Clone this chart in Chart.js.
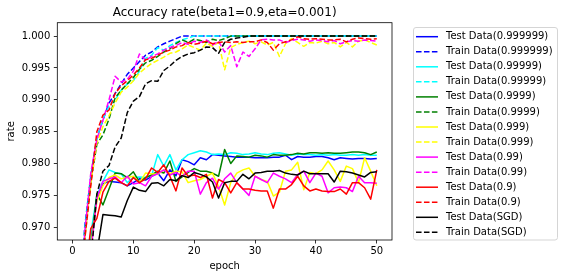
<!DOCTYPE html>
<html>
<head>
<meta charset="utf-8">
<script src="https://cdn.jsdelivr.net/npm/chart.js@4.4.0/dist/chart.umd.min.js"></script>
<style>
  html, body { margin: 0; padding: 0; background: #fff; }
  canvas { display: block; }
</style>
</head>
<body>
<canvas id="accuracy" width="564" height="278"></canvas>
<script>
Chart.defaults.font.family = "DejaVu Sans";
Chart.defaults.font.size = 10;
Chart.defaults.color = '#000';

const epochs = [1, 2, 3, 4, 5, 6, 7, 8, 9, 10,
    11, 12, 13, 14, 15, 16, 17, 18, 19, 20,
    21, 22, 23, 24, 25, 26, 27, 28, 29, 30,
    31, 32, 33, 34, 35, 36, 37, 38, 39, 40,
    41, 42, 43, 44, 45, 46, 47, 48, 49, 50];
const xTicks = [0, 10, 20, 30, 40, 50];
const yTicks = [0.970, 0.975, 0.980, 0.985, 0.990, 0.995, 1.000];

// beta2 = 0.999999
const test6 = [0.9550, 0.9620, 0.9680, 0.9745, 0.9768, 0.9772, 0.9771, 0.9770, 0.9765, 0.9770,
    0.9776, 0.9774, 0.9780, 0.9785, 0.9773, 0.9790, 0.9781, 0.9806, 0.9803, 0.9798,
    0.9809, 0.9806, 0.9814, 0.9813, 0.9812, 0.9811, 0.9810, 0.9810, 0.9810, 0.9809,
    0.9809, 0.9809, 0.9810, 0.9810, 0.9813, 0.9806, 0.9811, 0.9810, 0.9810, 0.9811,
    0.9811, 0.9809, 0.9806, 0.9809, 0.9808, 0.9807, 0.9808, 0.9808, 0.9807, 0.9808];
const train6 = [0.9550, 0.9700, 0.9780, 0.9840, 0.9868, 0.9895, 0.9910, 0.9925, 0.9940, 0.9950,
    0.9960, 0.9970, 0.9975, 0.9983, 0.9988, 0.9992, 0.9996, 1.0000, 1.0000, 1.0000,
    1.0000, 1.0000, 1.0000, 1.0000, 1.0000, 1.0000, 1.0000, 1.0000, 1.0000, 1.0000,
    1.0000, 1.0000, 1.0000, 1.0000, 1.0000, 1.0000, 1.0000, 1.0000, 1.0000, 1.0000,
    1.0000, 1.0000, 1.0000, 1.0000, 1.0000, 1.0000, 1.0000, 1.0000, 1.0000, 1.0000];

// beta2 = 0.99999
const test5 = [0.9550, 0.9620, 0.9690, 0.9750, 0.9772, 0.9790, 0.9786, 0.9784, 0.9770, 0.9778,
    0.9779, 0.9778, 0.9781, 0.9814, 0.9796, 0.9814, 0.9790, 0.9806, 0.9814, 0.9817,
    0.9820, 0.9818, 0.9814, 0.9815, 0.9814, 0.9817, 0.9816, 0.9814, 0.9815, 0.9817,
    0.9815, 0.9814, 0.9816, 0.9817, 0.9815, 0.9813, 0.9815, 0.9814, 0.9814, 0.9813,
    0.9814, 0.9813, 0.9814, 0.9813, 0.9813, 0.9814, 0.9813, 0.9814, 0.9813, 0.9813];
const train5 = [0.9550, 0.9695, 0.9775, 0.9840, 0.9870, 0.9890, 0.9900, 0.9915, 0.9925, 0.9930,
    0.9945, 0.9965, 0.9970, 0.9982, 0.9978, 0.9985, 0.9990, 0.9994, 0.9997, 1.0000,
    1.0000, 1.0000, 1.0000, 1.0000, 1.0000, 1.0000, 1.0000, 1.0000, 1.0000, 1.0000,
    1.0000, 1.0000, 1.0000, 1.0000, 1.0000, 1.0000, 1.0000, 1.0000, 1.0000, 1.0000,
    1.0000, 1.0000, 1.0000, 1.0000, 1.0000, 1.0000, 1.0000, 1.0000, 1.0000, 1.0000];

// beta2 = 0.9999
const test4 = [0.9540, 0.9610, 0.9670, 0.9752, 0.9735, 0.9760, 0.9785, 0.9784, 0.9778, 0.9787,
    0.9771, 0.9778, 0.9782, 0.9788, 0.9785, 0.9804, 0.9772, 0.9779, 0.9786, 0.9792,
    0.9788, 0.9788, 0.9785, 0.9780, 0.9822, 0.9800, 0.9812, 0.9811, 0.9810, 0.9813,
    0.9812, 0.9810, 0.9814, 0.9813, 0.9813, 0.9814, 0.9816, 0.9815, 0.9817, 0.9817,
    0.9816, 0.9817, 0.9816, 0.9816, 0.9817, 0.9818, 0.9818, 0.9817, 0.9814, 0.9818];
const train4 = [0.9540, 0.9685, 0.9770, 0.9830, 0.9845, 0.9870, 0.9903, 0.9915, 0.9925, 0.9935,
    0.9948, 0.9958, 0.9962, 0.9968, 0.9975, 0.9980, 0.9988, 0.9994, 0.9990, 0.9995,
    0.9993, 0.9990, 0.9995, 0.9993, 0.9996, 1.0000, 1.0000, 1.0000, 1.0000, 1.0000,
    1.0000, 1.0000, 1.0000, 1.0000, 1.0000, 1.0000, 1.0000, 1.0000, 1.0000, 1.0000,
    1.0000, 1.0000, 1.0000, 1.0000, 1.0000, 1.0000, 1.0000, 1.0000, 1.0000, 1.0000];

// beta2 = 0.999
const test3 = [0.9520, 0.9600, 0.9670, 0.9740, 0.9765, 0.9778, 0.9782, 0.9776, 0.9778, 0.9780,
    0.9770, 0.9785, 0.9784, 0.9783, 0.9790, 0.9784, 0.9788, 0.9787, 0.9770, 0.9773,
    0.9775, 0.9780, 0.9785, 0.9764, 0.9735, 0.9770, 0.9785, 0.9790, 0.9793, 0.9780,
    0.9775, 0.9772, 0.9749, 0.9755, 0.9788, 0.9790, 0.9802, 0.9759, 0.9786, 0.9784,
    0.9790, 0.9804, 0.9790, 0.9772, 0.9796, 0.9792, 0.9770, 0.9809, 0.9788, 0.9765];
const train3 = [0.9530, 0.9680, 0.9770, 0.9832, 0.9858, 0.9875, 0.9895, 0.9912, 0.9920, 0.9930,
    0.9942, 0.9950, 0.9957, 0.9962, 0.9967, 0.9973, 0.9975, 0.9980, 0.9986, 0.9982,
    0.9978, 0.9989, 0.9984, 0.9990, 0.9947, 0.9982, 0.9987, 0.9990, 0.9992, 0.9988,
    0.9991, 0.9986, 0.9990, 0.9968, 0.9988, 0.9996, 0.9990, 0.9984, 0.9990, 0.9989,
    0.9992, 0.9988, 0.9990, 0.9983, 0.9990, 0.9983, 0.9992, 0.9994, 0.9990, 0.9986];

// beta2 = 0.99
const test2 = [0.9520, 0.9600, 0.9660, 0.9745, 0.9772, 0.9776, 0.9779, 0.9770, 0.9780, 0.9768,
    0.9770, 0.9765, 0.9780, 0.9784, 0.9790, 0.9782, 0.9786, 0.9780, 0.9788, 0.9788,
    0.9752, 0.9770, 0.9777, 0.9760, 0.9776, 0.9785, 0.9770, 0.9760, 0.9750, 0.9780,
    0.9775, 0.9770, 0.9785, 0.9780, 0.9776, 0.9770, 0.9783, 0.9788, 0.9770, 0.9785,
    0.9780, 0.9754, 0.9762, 0.9763, 0.9762, 0.9756, 0.9780, 0.9770, 0.9770, 0.9769];
const train2 = [0.9530, 0.9690, 0.9785, 0.9838, 0.9868, 0.9900, 0.9937, 0.9928, 0.9932, 0.9945,
    0.9972, 0.9962, 0.9968, 0.9972, 0.9978, 0.9982, 0.9985, 0.9990, 0.9987, 0.9992,
    0.9990, 0.9994, 0.9986, 0.9992, 0.9975, 0.9985, 0.9952, 0.9975, 0.9968, 0.9980,
    0.9994, 0.9995, 0.9994, 0.9994, 0.9990, 0.9993, 0.9995, 0.9994, 0.9992, 0.9994,
    0.9993, 0.9991, 0.9993, 0.9988, 0.9991, 0.9993, 0.9992, 0.9994, 0.9993, 0.9992];

// beta2 = 0.9
const test1 = [0.9520, 0.9620, 0.9698, 0.9714, 0.9755, 0.9772, 0.9777, 0.9770, 0.9765, 0.9778,
    0.9770, 0.9776, 0.9793, 0.9786, 0.9798, 0.9780, 0.9757, 0.9793, 0.9780, 0.9782,
    0.9778, 0.9783, 0.9746, 0.9775, 0.9770, 0.9754, 0.9770, 0.9760, 0.9760, 0.9758,
    0.9757, 0.9757, 0.9730, 0.9760, 0.9760, 0.9767, 0.9780, 0.9765, 0.9757, 0.9760,
    0.9757, 0.9756, 0.9756, 0.9760, 0.9752, 0.9770, 0.9770, 0.9762, 0.9744, 0.9790];
const train1 = [0.9550, 0.9680, 0.9765, 0.9850, 0.9876, 0.9884, 0.9910, 0.9922, 0.9930, 0.9939,
    0.9950, 0.9963, 0.9965, 0.9970, 0.9975, 0.9978, 0.9983, 0.9985, 0.9990, 0.9987,
    0.9989, 0.9992, 0.9988, 0.9990, 0.9991, 0.9990, 0.9991, 0.9990, 0.9991, 0.9991,
    0.9994, 0.9990, 0.9978, 0.9988, 0.9991, 0.9994, 0.9999, 0.9996, 0.9995, 0.9996,
    0.9995, 0.9994, 0.9994, 0.9995, 0.9991, 0.9995, 0.9997, 0.9996, 0.9995, 0.9996];

// plain SGD
const testSGD = [0.9500, 0.9560, 0.9620, 0.9660, 0.9720, 0.9719, 0.9718, 0.9716, 0.9742, 0.9763,
    0.9758, 0.9756, 0.9769, 0.9770, 0.9765, 0.9775, 0.9773, 0.9781, 0.9778, 0.9786,
    0.9783, 0.9779, 0.9771, 0.9746, 0.9770, 0.9772, 0.9772, 0.9783, 0.9776, 0.9785,
    0.9786, 0.9788, 0.9788, 0.9789, 0.9785, 0.9783, 0.9782, 0.9788, 0.9784, 0.9784,
    0.9784, 0.9784, 0.9771, 0.9788, 0.9787, 0.9785, 0.9782, 0.9779, 0.9786, 0.9787];
const trainSGD = [0.9450, 0.9550, 0.9650, 0.9752, 0.9788, 0.9797, 0.9826, 0.9840, 0.9880, 0.9898,
    0.9905, 0.9925, 0.9930, 0.9929, 0.9946, 0.9953, 0.9962, 0.9968, 0.9972, 0.9974,
    0.9978, 0.9983, 0.9982, 0.9973, 0.9990, 0.9995, 0.9997, 0.9998, 1.0000, 1.0000,
    1.0000, 1.0000, 1.0000, 1.0000, 1.0000, 1.0000, 1.0000, 1.0000, 1.0000, 1.0000,
    1.0000, 1.0000, 1.0000, 1.0000, 1.0000, 1.0000, 1.0000, 1.0000, 1.0000, 1.0000];

const seriesNames = ['0.999999', '0.99999', '0.9999', '0.999', '0.99', '0.9', 'SGD'];
const testSeries = [test6, test5, test4, test3, test2, test1, testSGD];
const trainSeries = [train6, train5, train4, train3, train2, train1, trainSGD];
const colors = ['#0000ff', '#00ffff', '#008000', '#ffff00', '#ff00ff', '#ff0000', '#000000'];

const datasets = [];
seriesNames.forEach((name, i) => {
    datasets.push({label: 'Test Data(' + name + ')', data: testSeries[i], borderColor: colors[i], borderDash: []});
    datasets.push({label: 'Train Data(' + name + ')', data: trainSeries[i], borderColor: colors[i], borderDash: [5.55, 2.4]});
});
// matplotlib puts later lines on top
datasets.forEach((d, i) => {
    d.order = datasets.length - i;
    d.borderWidth = 1.5;
    d.pointRadius = 0;
    d.tension = 0;
    d.fill = false;
    d.clip = 0;
    d.borderJoinStyle = 'round';
});

// axes frame + legend box like matplotlib
const frameAndLegend = {
    id: 'frameAndLegend',
    afterDraw(chart) {
        const ctx = chart.ctx;
        const a = chart.chartArea;
        ctx.save();
        ctx.strokeStyle = '#000';
        ctx.lineWidth = 0.8;
        ctx.strokeRect(a.left, a.top, a.right - a.left, a.bottom - a.top);

        const bx = 413.5, by = 27.5, bw = 144, bh = 212.5;
        ctx.beginPath();
        ctx.roundRect(bx, by, bw, bh, 2.5);
        ctx.fillStyle = 'rgba(255,255,255,0.8)';
        ctx.fill();
        ctx.strokeStyle = '#d5d5d5';
        ctx.lineWidth = 1;
        ctx.stroke();

        ctx.font = '10px "DejaVu Sans"';
        ctx.textBaseline = 'middle';
        ctx.textAlign = 'left';
        chart.data.datasets.forEach((d, i) => {
            const y = 36.7 + i * 15.05;
            ctx.beginPath();
            ctx.setLineDash(d.borderDash);
            ctx.strokeStyle = d.borderColor;
            ctx.lineWidth = 1.5;
            ctx.moveTo(416, y);
            ctx.lineTo(438, y);
            ctx.stroke();
            ctx.setLineDash([]);
            ctx.fillStyle = '#000';
            ctx.fillText(d.label, 446, y);
        });
        ctx.restore();
    }
};

new Chart(document.getElementById('accuracy').getContext('2d'), {
    type: 'line',
    data: {
        labels: epochs,
        datasets: datasets
    },
    options: {
        responsive: false,
        animation: false,
        events: [],
        layout: {
            padding: {left: 0, right: 172, top: 0, bottom: 0}
        },
        scales: {
            x: {
                type: 'linear',
                min: -2.5,
                max: 52.5,
                afterBuildTicks: (scale) => { scale.ticks = xTicks.map(v => ({value: v})); },
                afterFit: (scale) => { scale.height = 38; },
                ticks: {padding: 2, maxRotation: 0, autoSkip: false, color: '#000'},
                grid: {drawOnChartArea: false, drawTicks: true, tickLength: 3.5, color: '#000', lineWidth: 0.8},
                border: {display: false},
                title: {display: true, text: 'epoch', color: '#000', padding: {top: 0, bottom: 5.5}}
            },
            y: {
                min: 0.968,
                max: 1.0021,
                afterBuildTicks: (scale) => { scale.ticks = yTicks.map(v => ({value: v})); },
                afterFit: (scale) => { scale.width = 57.3; },
                ticks: {
                    padding: 3.5,
                    color: '#000',
                    callback: (v) => v.toFixed(3)
                },
                grid: {drawOnChartArea: false, drawTicks: true, tickLength: 3.5, color: '#000', lineWidth: 0.8},
                border: {display: false},
                title: {display: true, text: 'rate', color: '#000', padding: {top: 5.5, bottom: 0}}
            }
        },
        plugins: {
            legend: {display: false},
            tooltip: {enabled: false},
            title: {
                display: true,
                fullSize: false,
                text: 'Accuracy rate(beta1=0.9,eta=0.001)',
                color: '#000',
                font: {size: 12, weight: 'normal', lineHeight: 1},
                padding: {top: 6.5, bottom: 4.2}
            }
        }
    },
    plugins: [frameAndLegend]
});
</script>
</body>
</html>
